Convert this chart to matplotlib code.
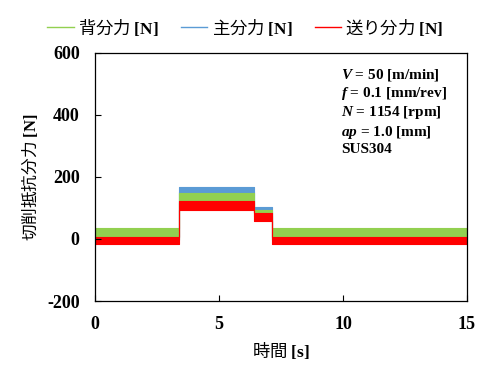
import numpy as np
import matplotlib
matplotlib.use("Agg")
import matplotlib.pyplot as plt
from matplotlib.lines import Line2D

plt.rcParams["font.family"] = ["Liberation Serif", "Noto Sans CJK JP", "DejaVu Sans"]
plt.rcParams["axes.unicode_minus"] = False
plt.rcParams["mathtext.fontset"] = "custom"
plt.rcParams["mathtext.bf"] = "Liberation Serif:bold"
plt.rcParams["mathtext.it"] = "Liberation Serif:italic:bold"
plt.rcParams["mathtext.rm"] = "Liberation Serif:bold"

# segment boundaries [s]: idle, cutting, partial cut, idle
seg_t = [0.0, 3.4, 6.4, 7.15, 15.0]

# noise band (low / high) per segment [N]
blue_low = [-2, 150, 87, -2]
blue_high = [8, 168, 103, 8]
green_low = [0, 115, 75, 0]
green_high = [35, 148, 95, 35]
red_low = [-15, 93, 58, -15]
red_high = [8, 122, 84, 8]

labels = ["背分力", "主分力", "送り分力"]
colors = ["#92D050", "#5B9BD5", "#FF0000"]

conditions = [
    r"$V$ = 50 [m/min]",
    r"$f$ = 0.1 [mm/rev]",
    r"$N$ = 1154 [rpm]",
    r"$ap$ = 1.0 [mm]",
    "SUS304",
]

jp = "Noto Sans CJK JP"

fig = plt.figure(figsize=(4.91, 3.78), dpi=100)
ax = fig.add_axes([0.1935, 0.2037, 0.7575, 0.6563])


def band(low, high, color):
    t = np.array(seg_t)
    lo = np.array(low + [low[-1]])
    hi = np.array(high + [high[-1]])
    ax.fill_between(t, lo, hi, step="post", color=color, lw=0.8, edgecolor=color)


band(blue_low, blue_high, colors[1])
band(green_low, green_high, colors[0])
band(red_low, red_high, colors[2])

ax.set_xlim(0, 15)
ax.set_ylim(-200, 600)
ax.set_xticks([0, 5, 10, 15])
ax.set_yticks([-200, 0, 200, 400, 600])
ax.tick_params(direction="in", length=4, width=0.8, labelsize=13, pad=11)
for lab in ax.get_xticklabels() + ax.get_yticklabels():
    lab.set_fontweight("bold")
    lab.set_family("Liberation Serif")
for s in ax.spines.values():
    s.set_linewidth(0.9)

ax.set_xlabel(r"時間 $\mathbf{[s]}$", fontsize=12.5, family=jp, labelpad=5)
ax.set_ylabel(r"切削抵抗分力 $\mathbf{[N]}$", fontsize=12, family=jp, labelpad=5)

ax.text(0.662, 0.945, "\n".join(conditions), transform=ax.transAxes,
        va="top", ha="left", fontsize=11, fontweight="bold",
        family="Liberation Serif", linespacing=1.2)

handles = [Line2D([], [], color=c, lw=1) for c in colors]
fig.legend(handles, [l + r" $\mathbf{[N]}$" for l in labels],
           loc="center", bbox_to_anchor=(0.5, 1 - 27 / 378), ncol=3,
           frameon=False, prop={"family": jp, "size": 12.5},
           handlelength=1.5, handletextpad=0.25, columnspacing=1.3)

fig.savefig("out.png", dpi=100)
